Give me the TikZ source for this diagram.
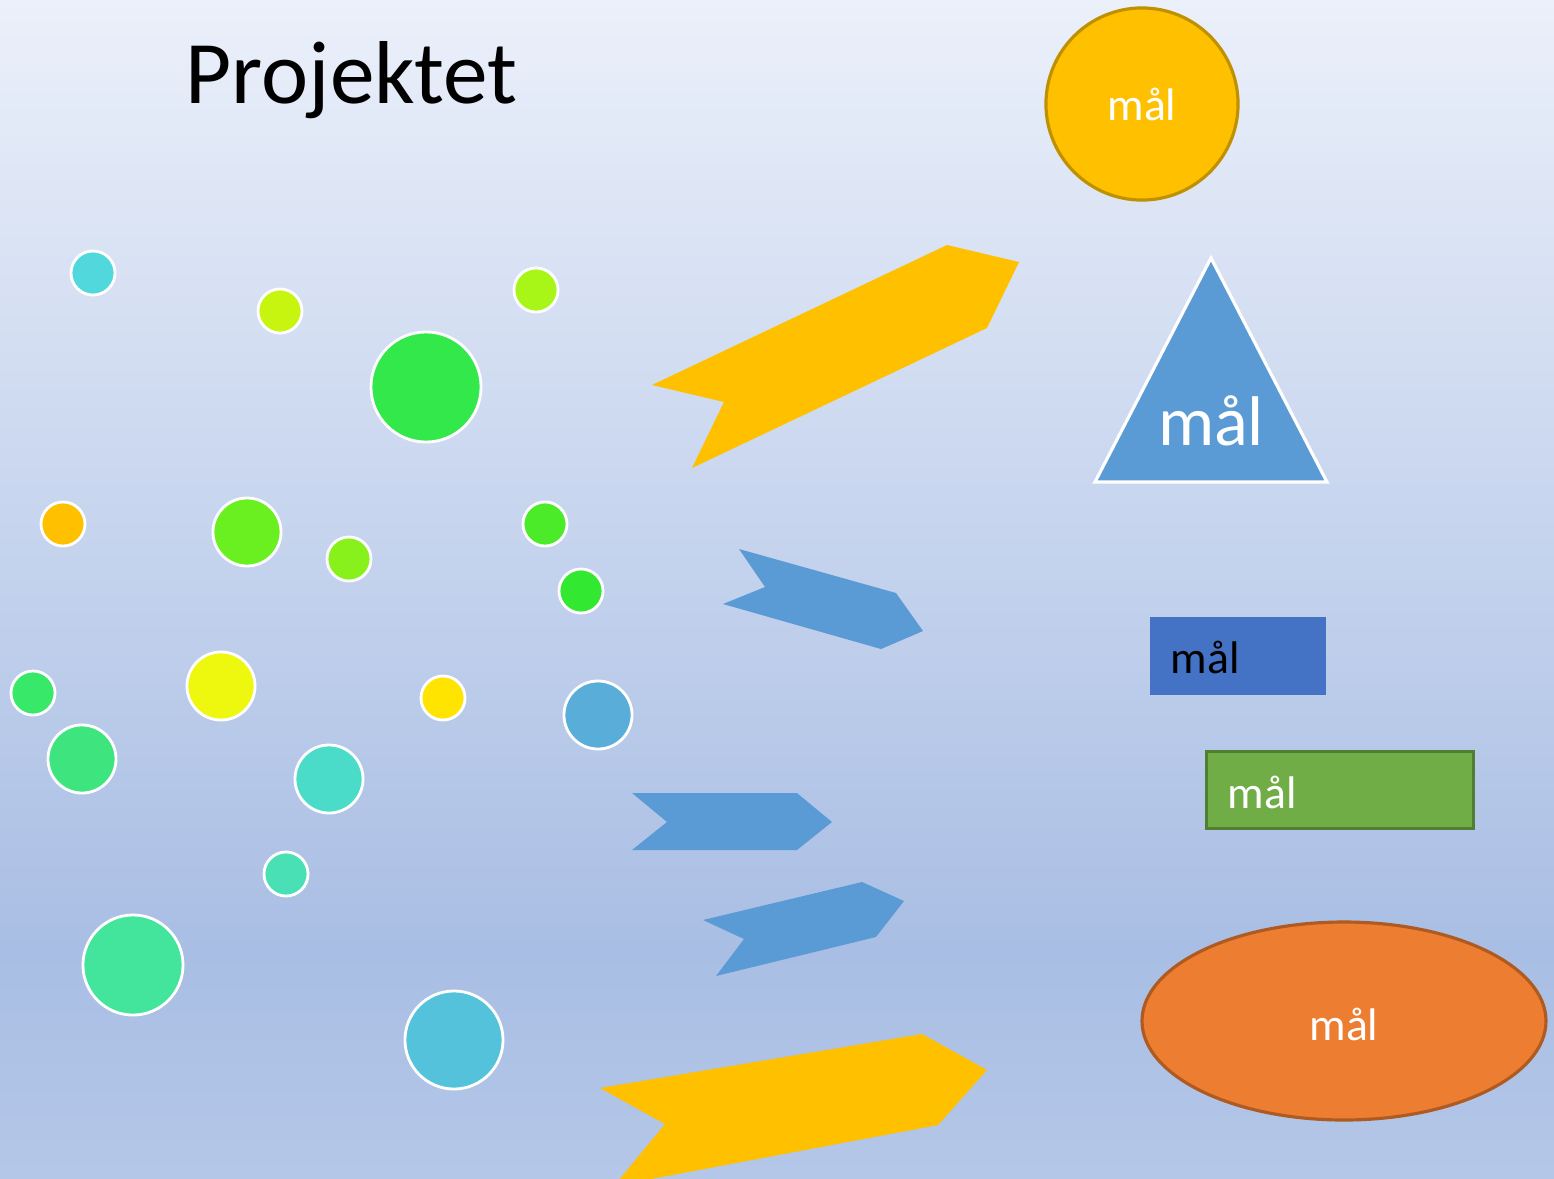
\documentclass[tikz,border=0pt]{standalone}
\usepackage{fontspec}
\setmainfont{Carlito}
\definecolor{bgtop}{HTML}{EBF0FA}
\definecolor{bgmid}{HTML}{A9BEE4}
\definecolor{bgbot}{HTML}{B4C7E8}
\definecolor{gold}{HTML}{FFC000}
\definecolor{golddark}{HTML}{BF9000}
\definecolor{arrowblue}{HTML}{5B9BD5}
\definecolor{boxblue}{HTML}{4472C4}
\definecolor{boxgreen}{HTML}{70AD47}
\definecolor{boxgreendark}{HTML}{507E32}
\definecolor{ovorange}{HTML}{ED7D31}
\definecolor{ovorangedark}{HTML}{AE5A21}
\tikzset{
  dot/.style={circle, draw=white, line width=0.8pt, inner sep=0pt, minimum size=#1},
  goaltext/.style={text=white, inner sep=0pt, font=\fontsize{13}{15}\selectfont},
}
\begin{document}
\begin{tikzpicture}[x=0.01cm, y=-0.01cm]
\useasboundingbox (0,0) rectangle (1554,1178);
\fill[top color=bgtop, bottom color=bgmid] (0,0) rectangle (1554,951);
\fill[top color=bgmid, bottom color=bgbot] (0,950) rectangle (1554,1178);

% title
\node[anchor=base west, inner sep=0pt, font=\fontsize{25.4}{30}\selectfont] (title) at (185,103) {Projektet};

% circles
\node[dot=0.44cm, fill={rgb,255:red,80;green,216;blue,220}] (c1) at (93,273) {};
\node[dot=0.44cm, fill={rgb,255:red,200;green,245;blue,15}] (c2) at (280,311) {};
\node[dot=0.44cm, fill={rgb,255:red,168;green,245;blue,24}] (c3) at (536,290) {};
\node[dot=1.10cm, fill={rgb,255:red,50;green,232;blue,74}] (c4) at (426,387) {};
\node[dot=0.44cm, fill={rgb,255:red,255;green,192;blue,0}] (c5) at (63,524) {};
\node[dot=0.68cm, fill={rgb,255:red,106;green,240;blue,32}] (c6) at (247,532) {};
\node[dot=0.44cm, fill={rgb,255:red,136;green,240;blue,26}] (c7) at (349,559) {};
\node[dot=0.44cm, fill={rgb,255:red,76;green,235;blue,42}] (c8) at (545,524) {};
\node[dot=0.44cm, fill={rgb,255:red,51;green,232;blue,48}] (c9) at (581,591) {};
\node[dot=0.44cm, fill={rgb,255:red,56;green,232;blue,104}] (c10) at (33,693) {};
\node[dot=0.68cm, fill={rgb,255:red,238;green,248;blue,14}] (c11) at (221,686) {};
\node[dot=0.44cm, fill={rgb,255:red,255;green,228;blue,0}] (c12) at (443,698) {};
\node[dot=0.68cm, fill={rgb,255:red,88;green,174;blue,216}] (c13) at (598,715) {};
\node[dot=0.68cm, fill={rgb,255:red,62;green,228;blue,126}] (c14) at (82,759) {};
\node[dot=0.68cm, fill={rgb,255:red,74;green,220;blue,200}] (c15) at (329,779) {};
\node[dot=0.44cm, fill={rgb,255:red,72;green,224;blue,180}] (c16) at (286,874) {};
\node[dot=1.0cm, fill={rgb,255:red,67;green,228;blue,156}] (c17) at (133,965) {};
\node[dot=0.98cm, fill={rgb,255:red,85;green,194;blue,220}] (c18) at (454,1040) {};

% arrows
\fill[gold] (652,385) -- (947,245) -- (1019,262) -- (987,328) -- (692,468) -- (724,402) -- cycle;
\fill[arrowblue] (739,549) -- (896,593) -- (923,631) -- (881,649) -- (723,604) -- (765,587) -- cycle;
\fill[arrowblue] (632,793) -- (797,793) -- (832,822) -- (797,850) -- (632,850) -- (667,822) -- cycle;
\fill[arrowblue] (703,920) -- (862,882) -- (904,901) -- (876,937) -- (716,976) -- (744,939) -- cycle;
\begin{scope}
\clip (0,0) rectangle (1554,1178);
\fill[gold] (600,1088) -- (922,1034) -- (987,1070) -- (938,1125) -- (614,1186) -- (665,1124) -- cycle;
\end{scope}

% goals
\node[circle, fill=gold, draw=golddark, line width=0.9pt, minimum size=1.92cm, inner sep=0pt] (goalA) at (1142,104) {};
\node[goaltext] (goalAtext) at (1142,104) {mål};

\draw[fill=arrowblue, draw=white, line width=0.9pt] (1211,258) -- (1327,482) -- (1095,482) -- cycle;
\coordinate (triC) at (1211,421);
\node[text=white, inner sep=0pt, font=\fontsize{20}{24}\selectfont] (goalBtext) at (triC) {mål};

\node[rectangle, fill=boxblue, minimum width=1.76cm, minimum height=0.78cm, inner sep=0pt] (goalC) at (1238,656) {};
\node[anchor=west, inner sep=0pt, font=\fontsize{13}{15}\selectfont] (goalCtext) at (1170,657) {mål};

\node[rectangle, fill=boxgreen, draw=boxgreendark, line width=0.9pt, minimum width=2.67cm, minimum height=0.77cm, inner sep=0pt] (goalD) at (1340,790) {};
\node[goaltext, anchor=west] (goalDtext) at (1227,792) {mål};

\draw[fill=ovorange, draw=ovorangedark, line width=0.9pt] (1344,1021) ellipse [x radius=202, y radius=99];
\coordinate (ovC) at (1344,1024);
\node[goaltext] (goalEtext) at (ovC) {mål};
\end{tikzpicture}
\end{document}
